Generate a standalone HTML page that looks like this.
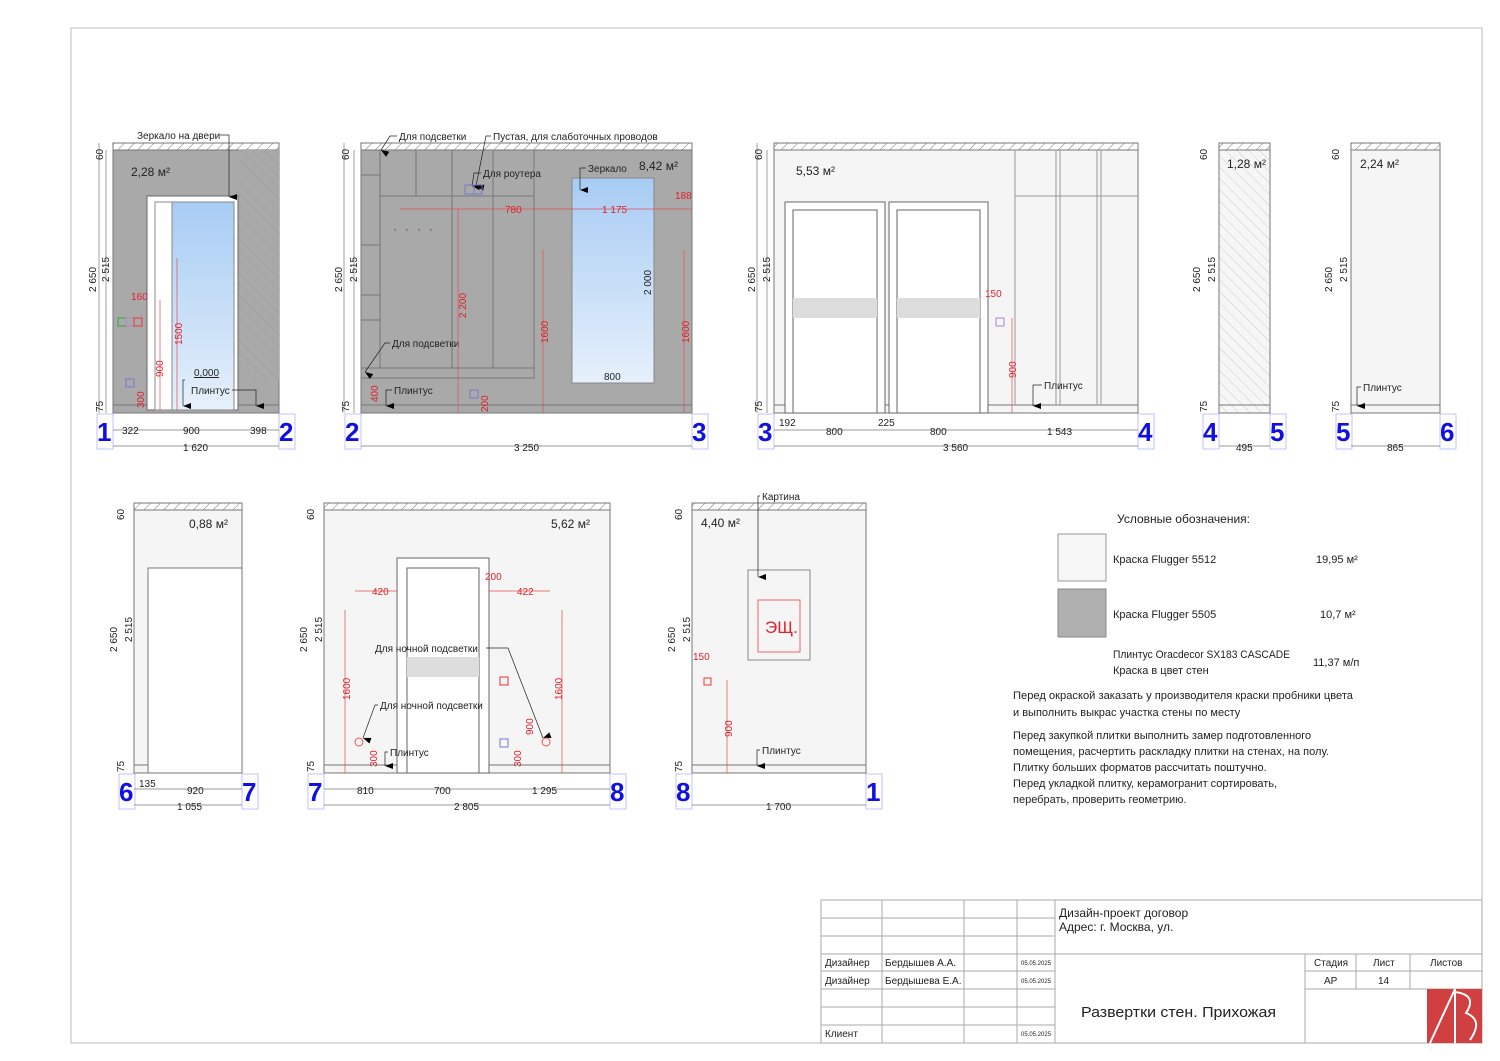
<!DOCTYPE html>
<html><head><meta charset="utf-8">
<style>
html,body{margin:0;padding:0;background:#fff;}
svg{display:block;font-family:"Liberation Sans","DejaVu Sans",sans-serif;}
.t{font-size:10px;fill:#222;}
.r{font-size:10px;fill:#e0202a;}
.n{font-size:26px;fill:#1010e0;font-weight:bold;font-family:"Liberation Sans",sans-serif;}
.d{stroke:#777;stroke-width:.7;fill:none;}
.rd{stroke:#e05050;stroke-width:.7;fill:none;}
.ld{stroke:#222;stroke-width:.7;fill:none;}
.tb{stroke:#aaa;stroke-width:1;fill:none;}
</style></head><body>
<svg width="1500" height="1061" viewBox="0 0 1500 1061" xmlns="http://www.w3.org/2000/svg">
<defs>
<pattern id="h" width="7" height="7" patternUnits="userSpaceOnUse" patternTransform="rotate(45)">
<rect width="7" height="7" fill="#fff"/><line x1="0" y1="0" x2="0" y2="7" stroke="#777" stroke-width="1"/></pattern>
<pattern id="hg" width="8" height="8" patternUnits="userSpaceOnUse" patternTransform="rotate(-45)">
<rect width="8" height="8" fill="#a9a9a9"/><line x1="0" y1="0" x2="0" y2="8" stroke="#999" stroke-width="1"/></pattern>
<pattern id="hw" width="8" height="8" patternUnits="userSpaceOnUse" patternTransform="rotate(-45)">
<rect width="8" height="8" fill="#f6f6f6"/><line x1="0" y1="0" x2="0" y2="8" stroke="#ccc" stroke-width="1"/></pattern>
<linearGradient id="m" x1="0" y1="0" x2="0" y2="1"><stop offset="0" stop-color="#a8ccf4"/><stop offset="1" stop-color="#e6f0fb"/></linearGradient>
<marker id="a" markerWidth="6" markerHeight="8" refX="3" refY="8" orient="auto-start-reverse" markerUnits="userSpaceOnUse"><path d="M0 0 L6 0 L3 8Z" fill="#000"/></marker>
</defs>
<rect x="71" y="28" width="1411" height="1015" fill="none" stroke="#bbb"/>

<!-- WALL 1 -->
<rect x="113" y="143" width="166" height="7" fill="url(#h)" stroke="#777"/>
<rect x="113" y="150" width="166" height="263" fill="#a9a9a9" stroke="#777"/>
<rect x="238" y="150" width="41" height="230" fill="url(#hg)"/>
<line x1="113" y1="405" x2="279" y2="405" stroke="#777"/>
<rect x="147" y="196" width="91" height="214" fill="#fff" stroke="#666"/>
<rect x="155" y="202" width="79" height="208" fill="#fff" stroke="#888"/>
<rect x="172" y="202" width="62" height="208" fill="url(#m)" stroke="#888"/>
<text x="137" y="139" class="t">Зеркало на двери</text>
<path d="M220 135 L229 135 L229 197" class="ld" marker-end="url(#a)"/>
<text x="131" y="176" class="t" style="font-size:12px">2,28 м²</text>
<text x="194" y="376" class="t" text-decoration="underline">0,000</text>
<path d="M185 380 L183 380 L183 406" class="ld" marker-end="url(#a)"/>
<text x="191" y="394" class="t">Плинтус</text>
<path d="M232 390 L256 390 L256 406" class="ld" marker-end="url(#a)"/>
<text x="131" y="300" class="r">160</text>
<rect x="118" y="318" width="8" height="8" fill="none" stroke="#3a3"/><rect x="126" y="318" width="8" height="8" fill="none" stroke="#a8c"/><rect x="134" y="318" width="8" height="8" fill="none" stroke="#e33"/>
<rect x="126" y="379" width="8" height="8" fill="none" stroke="#77c"/>
<line x1="177" y1="258" x2="177" y2="410" class="rd"/><line x1="160" y1="300" x2="160" y2="410" class="rd"/>
<text transform="translate(182,345) rotate(-90)" class="r">1500</text>
<text transform="translate(163,377) rotate(-90)" class="r">900</text>
<text transform="translate(144,408) rotate(-90)" class="r">300</text>
<line x1="99" y1="143" x2="99" y2="413" class="d"/><line x1="106" y1="150" x2="106" y2="413" class="d"/>
<text transform="translate(103,160) rotate(-90)" class="t">60</text>
<text transform="translate(96,292) rotate(-90)" class="t">2 650</text>
<text transform="translate(109,282) rotate(-90)" class="t">2 515</text>
<text transform="translate(103,412) rotate(-90)" class="t">75</text>
<line x1="113" y1="430" x2="279" y2="430" class="d"/><line x1="113" y1="446" x2="279" y2="446" class="d"/>
<text x="122" y="434" class="t">322</text><text x="183" y="434" class="t">900</text><text x="250" y="434" class="t">398</text>
<text x="183" y="451" class="t">1 620</text>
<rect x="97" y="414" width="16" height="35" fill="none" stroke="#99f" stroke-width=".6"/>
<rect x="279" y="414" width="16" height="35" fill="none" stroke="#99f" stroke-width=".6"/>
<text x="97" y="441" class="n">1</text><text x="279" y="441" class="n">2</text>

<!-- WALL 2 -->
<rect x="361" y="143" width="331" height="7" fill="url(#h)" stroke="#777"/>
<rect x="361" y="150" width="331" height="263" fill="#a9a9a9" stroke="#777"/>
<line x1="361" y1="405" x2="692" y2="405" stroke="#777"/>
<g stroke="#777" fill="none">
<rect x="361" y="150" width="173" height="228"/>
<line x1="380" y1="150" x2="380" y2="368"/><line x1="361" y1="368" x2="534" y2="368"/>
<line x1="416" y1="150" x2="416" y2="196"/><line x1="452" y1="150" x2="452" y2="368"/><line x1="493" y1="150" x2="493" y2="368"/>
<line x1="380" y1="196" x2="534" y2="196"/>
<line x1="361" y1="175" x2="380" y2="175"/><line x1="361" y1="245" x2="380" y2="245"/><line x1="361" y1="295" x2="380" y2="295"/><line x1="361" y1="320" x2="380" y2="320"/>
</g>
<g fill="#888"><circle cx="395" cy="230" r="1.2"/><circle cx="407" cy="230" r="1.2"/><circle cx="419" cy="230" r="1.2"/><circle cx="431" cy="230" r="1.2"/></g>
<rect x="572" y="178" width="82" height="205" fill="url(#m)" stroke="#888"/>
<text x="399" y="140" class="t">Для подсветки</text>
<path d="M397 136 L390 136 L381 150" class="ld" marker-end="url(#a)"/>
<text x="493" y="140" class="t">Пустая, для слаботочных проводов</text>
<path d="M491 136 L486 136 L476 186" class="ld" marker-end="url(#a)"/>
<text x="483" y="177" class="t">Для роутера</text>
<path d="M481 173 L474 173 L472 186" class="ld" marker-end="url(#a)"/>
<text x="392" y="347" class="t">Для подсветки</text>
<path d="M390 343 L385 343 L365 372" class="ld" marker-end="url(#a)"/>
<text x="394" y="394" class="t">Плинтус</text>
<path d="M392 390 L386 390 L386 406" class="ld" marker-end="url(#a)"/>
<text x="588" y="172" class="t">Зеркало</text>
<path d="M586 168 L580 168 L580 190" class="ld" marker-end="url(#a)"/>
<text x="639" y="170" class="t" style="font-size:12px">8,42 м²</text>
<rect x="465" y="185" width="9" height="9" fill="none" stroke="#77c"/><rect x="474" y="185" width="8" height="9" fill="none" stroke="#77c"/>
<rect x="470" y="390" width="8" height="8" fill="none" stroke="#77c"/>
<line x1="400" y1="209" x2="692" y2="209" class="rd"/>
<text x="505" y="213" class="r">780</text><text x="602" y="213" class="r">1 175</text><text x="675" y="199" class="r">188</text>
<line x1="458" y1="209" x2="458" y2="413" class="rd"/><line x1="543" y1="250" x2="543" y2="413" class="rd"/><line x1="684" y1="250" x2="684" y2="413" class="rd"/>
<text transform="translate(466,318) rotate(-90)" class="r">2 200</text>
<text transform="translate(548,343) rotate(-90)" class="r">1600</text>
<text transform="translate(689,343) rotate(-90)" class="r">1600</text>
<text transform="translate(378,402) rotate(-90)" class="r">400</text>
<text transform="translate(488,412) rotate(-90)" class="r">200</text>
<text transform="translate(651,295) rotate(-90)" class="t">2 000</text>
<text x="604" y="380" class="t">800</text>
<line x1="344" y1="143" x2="344" y2="413" class="d"/><line x1="354" y1="150" x2="354" y2="413" class="d"/>
<text transform="translate(349,160) rotate(-90)" class="t">60</text>
<text transform="translate(342,292) rotate(-90)" class="t">2 650</text>
<text transform="translate(357,282) rotate(-90)" class="t">2 515</text>
<text transform="translate(349,412) rotate(-90)" class="t">75</text>
<line x1="361" y1="446" x2="692" y2="446" class="d"/>
<text x="514" y="451" class="t">3 250</text>
<rect x="345" y="414" width="16" height="35" fill="none" stroke="#99f" stroke-width=".6"/>
<rect x="692" y="414" width="16" height="35" fill="none" stroke="#99f" stroke-width=".6"/>
<text x="345" y="441" class="n">2</text><text x="692" y="441" class="n">3</text>

<!-- WALL 3 -->
<rect x="774" y="143" width="364" height="7" fill="url(#h)" stroke="#777"/>
<rect x="774" y="150" width="364" height="263" fill="#f5f5f5" stroke="#777"/>
<line x1="774" y1="405" x2="1138" y2="405" stroke="#777"/>
<g stroke="#666" fill="#fff">
<rect x="785" y="202" width="100" height="211"/><rect x="793" y="210" width="84" height="203"/>
<rect x="889" y="202" width="99" height="211"/><rect x="897" y="210" width="83" height="203"/>
</g>
<rect x="793" y="298" width="84" height="20" fill="#ddd"/><rect x="897" y="298" width="83" height="20" fill="#ddd"/>
<g stroke="#999" fill="none"><line x1="1015" y1="150" x2="1015" y2="405"/><line x1="1056" y1="150" x2="1056" y2="405"/><line x1="1060" y1="150" x2="1060" y2="405"/><line x1="1097" y1="150" x2="1097" y2="405"/><line x1="1101" y1="150" x2="1101" y2="405"/><line x1="1015" y1="196" x2="1138" y2="196"/></g>
<text x="796" y="175" class="t" style="font-size:12px">5,53 м²</text>
<text x="985" y="297" class="r">150</text>
<rect x="996" y="318" width="8" height="8" fill="none" stroke="#a8c"/>
<line x1="1012" y1="318" x2="1012" y2="413" class="rd"/>
<text transform="translate(1016,378) rotate(-90)" class="r">900</text>
<text x="1044" y="389" class="t">Плинтус</text>
<path d="M1042 385 L1033 385 L1033 406" class="ld" marker-end="url(#a)"/>
<line x1="774" y1="430" x2="1138" y2="430" class="d"/><line x1="774" y1="446" x2="1138" y2="446" class="d"/>
<text x="779" y="426" class="t">192</text><text x="826" y="435" class="t">800</text><text x="878" y="426" class="t">225</text><text x="930" y="435" class="t">800</text><text x="1047" y="435" class="t">1 543</text>
<text x="943" y="451" class="t">3 560</text>
<line x1="757" y1="143" x2="757" y2="413" class="d"/><line x1="767" y1="150" x2="767" y2="413" class="d"/>
<text transform="translate(762,160) rotate(-90)" class="t">60</text>
<text transform="translate(755,292) rotate(-90)" class="t">2 650</text>
<text transform="translate(770,282) rotate(-90)" class="t">2 515</text>
<text transform="translate(762,412) rotate(-90)" class="t">75</text>
<rect x="758" y="414" width="16" height="35" fill="none" stroke="#99f" stroke-width=".6"/>
<rect x="1138" y="414" width="16" height="35" fill="none" stroke="#99f" stroke-width=".6"/>
<text x="758" y="441" class="n">3</text><text x="1138" y="441" class="n">4</text>

<!-- WALL 4 -->
<rect x="1219" y="143" width="51" height="7" fill="url(#h)" stroke="#777"/>
<rect x="1219" y="150" width="51" height="263" fill="url(#hw)" stroke="#777"/>
<line x1="1219" y1="405" x2="1270" y2="405" stroke="#777"/>
<text x="1227" y="168" class="t" style="font-size:12px">1,28 м²</text>
<line x1="1219" y1="446" x2="1270" y2="446" class="d"/>
<text x="1236" y="451" class="t">495</text>
<text transform="translate(1207,160) rotate(-90)" class="t">60</text>
<text transform="translate(1200,292) rotate(-90)" class="t">2 650</text>
<text transform="translate(1215,282) rotate(-90)" class="t">2 515</text>
<text transform="translate(1207,412) rotate(-90)" class="t">75</text>
<rect x="1203" y="414" width="16" height="35" fill="none" stroke="#99f" stroke-width=".6"/>
<rect x="1270" y="414" width="16" height="35" fill="none" stroke="#99f" stroke-width=".6"/>
<text x="1203" y="441" class="n">4</text><text x="1270" y="441" class="n">5</text>

<!-- WALL 5 -->
<rect x="1351" y="143" width="89" height="7" fill="url(#h)" stroke="#777"/>
<rect x="1351" y="150" width="89" height="263" fill="#f5f5f5" stroke="#777"/>
<line x1="1351" y1="405" x2="1440" y2="405" stroke="#777"/>
<text x="1360" y="168" class="t" style="font-size:12px">2,24 м²</text>
<text x="1363" y="391" class="t">Плинтус</text>
<path d="M1361 387 L1357 387 L1357 406" class="ld" marker-end="url(#a)"/>
<line x1="1351" y1="446" x2="1440" y2="446" class="d"/>
<text x="1387" y="451" class="t">865</text>
<text transform="translate(1339,160) rotate(-90)" class="t">60</text>
<text transform="translate(1332,292) rotate(-90)" class="t">2 650</text>
<text transform="translate(1347,282) rotate(-90)" class="t">2 515</text>
<text transform="translate(1339,412) rotate(-90)" class="t">75</text>
<rect x="1336" y="414" width="16" height="35" fill="none" stroke="#99f" stroke-width=".6"/>
<rect x="1440" y="414" width="16" height="35" fill="none" stroke="#99f" stroke-width=".6"/>
<text x="1336" y="441" class="n">5</text><text x="1440" y="441" class="n">6</text>

<!-- WALL 6 -->
<rect x="134" y="503" width="108" height="7" fill="url(#h)" stroke="#777"/>
<rect x="134" y="510" width="108" height="263" fill="#f5f5f5" stroke="#777"/>
<rect x="148" y="568" width="94" height="205" fill="#fff" stroke="#777"/>
<line x1="134" y1="765" x2="148" y2="765" stroke="#777"/>
<text x="189" y="528" class="t" style="font-size:12px">0,88 м²</text>
<line x1="134" y1="789" x2="242" y2="789" class="d"/><line x1="134" y1="805" x2="242" y2="805" class="d"/>
<text x="139" y="787" class="t">135</text><text x="187" y="794" class="t">920</text><text x="177" y="810" class="t">1 055</text>
<text transform="translate(124,520) rotate(-90)" class="t">60</text>
<text transform="translate(117,652) rotate(-90)" class="t">2 650</text>
<text transform="translate(132,642) rotate(-90)" class="t">2 515</text>
<text transform="translate(124,772) rotate(-90)" class="t">75</text>
<rect x="119" y="774" width="16" height="35" fill="none" stroke="#99f" stroke-width=".6"/>
<rect x="242" y="774" width="16" height="35" fill="none" stroke="#99f" stroke-width=".6"/>
<text x="119" y="801" class="n">6</text><text x="242" y="801" class="n">7</text>

<!-- WALL 7 -->
<rect x="324" y="503" width="286" height="7" fill="url(#h)" stroke="#777"/>
<rect x="324" y="510" width="286" height="263" fill="#f5f5f5" stroke="#777"/>
<line x1="324" y1="765" x2="610" y2="765" stroke="#777"/>
<rect x="397" y="558" width="92" height="215" fill="#fff" stroke="#666"/>
<rect x="407" y="568" width="72" height="205" fill="#fff" stroke="#666"/>
<rect x="407" y="657" width="72" height="20" fill="#ddd"/>
<text x="551" y="528" class="t" style="font-size:12px">5,62 м²</text>
<text x="375" y="652" class="t">Для ночной подсветки</text>
<path d="M486 648 L508 648 L543 738" class="ld" marker-end="url(#a)"/>
<text x="380" y="709" class="t">Для ночной подсветки</text>
<path d="M378 705 L375 705 L363 738" class="ld" marker-end="url(#a)"/>
<text x="390" y="756" class="t">Плинтус</text>
<path d="M388 752 L385 752 L385 766" class="ld" marker-end="url(#a)"/>
<line x1="355" y1="591" x2="397" y2="591" class="rd"/><line x1="489" y1="591" x2="550" y2="591" class="rd"/>
<text x="372" y="595" class="r">420</text><text x="485" y="580" class="r">200</text><text x="517" y="595" class="r">422</text>
<line x1="345" y1="610" x2="345" y2="773" class="rd"/><line x1="562" y1="610" x2="562" y2="773" class="rd"/>
<text transform="translate(350,700) rotate(-90)" class="r">1600</text>
<text transform="translate(562,700) rotate(-90)" class="r">1600</text>
<text transform="translate(533,735) rotate(-90)" class="r">900</text>
<text transform="translate(377,767) rotate(-90)" class="r">300</text>
<text transform="translate(521,767) rotate(-90)" class="r">300</text>
<rect x="500" y="677" width="8" height="8" fill="none" stroke="#e33"/>
<rect x="500" y="739" width="8" height="8" fill="none" stroke="#77c"/>
<circle cx="359" cy="742" r="4" fill="none" stroke="#e55"/><circle cx="546" cy="742" r="4" fill="none" stroke="#e55"/>
<line x1="324" y1="789" x2="610" y2="789" class="d"/><line x1="324" y1="805" x2="610" y2="805" class="d"/>
<text x="357" y="794" class="t">810</text><text x="434" y="794" class="t">700</text><text x="532" y="794" class="t">1 295</text><text x="454" y="810" class="t">2 805</text>
<text transform="translate(314,520) rotate(-90)" class="t">60</text>
<text transform="translate(307,652) rotate(-90)" class="t">2 650</text>
<text transform="translate(322,642) rotate(-90)" class="t">2 515</text>
<text transform="translate(314,772) rotate(-90)" class="t">75</text>
<rect x="308" y="774" width="16" height="35" fill="none" stroke="#99f" stroke-width=".6"/>
<rect x="610" y="774" width="16" height="35" fill="none" stroke="#99f" stroke-width=".6"/>
<text x="308" y="801" class="n">7</text><text x="610" y="801" class="n">8</text>

<!-- WALL 8 -->
<rect x="692" y="503" width="174" height="7" fill="url(#h)" stroke="#777"/>
<rect x="692" y="510" width="174" height="263" fill="#f5f5f5" stroke="#777"/>
<line x1="692" y1="765" x2="866" y2="765" stroke="#777"/>
<rect x="748" y="570" width="62" height="90" fill="#f5f5f5" stroke="#888"/>
<rect x="758" y="600" width="42" height="52" fill="none" stroke="#e66"/>
<text x="765" y="633" class="r" style="font-size:17px">ЭЩ.</text>
<text x="762" y="500" class="t">Картина</text>
<path d="M760 496 L758 496 L758 577" class="ld" marker-end="url(#a)"/>
<text x="701" y="527" class="t" style="font-size:12px">4,40 м²</text>
<text x="693" y="660" class="r">150</text>
<rect x="704" y="678" width="7" height="7" fill="none" stroke="#e33"/>
<line x1="727" y1="680" x2="727" y2="773" class="rd"/>
<text transform="translate(732,737) rotate(-90)" class="r">900</text>
<text x="762" y="754" class="t">Плинтус</text>
<path d="M760 750 L757 750 L757 766" class="ld" marker-end="url(#a)"/>
<line x1="692" y1="805" x2="866" y2="805" class="d"/>
<text x="766" y="810" class="t">1 700</text>
<text transform="translate(682,520) rotate(-90)" class="t">60</text>
<text transform="translate(675,652) rotate(-90)" class="t">2 650</text>
<text transform="translate(690,642) rotate(-90)" class="t">2 515</text>
<text transform="translate(682,772) rotate(-90)" class="t">75</text>
<rect x="676" y="774" width="16" height="35" fill="none" stroke="#99f" stroke-width=".6"/>
<rect x="866" y="774" width="16" height="35" fill="none" stroke="#99f" stroke-width=".6"/>
<text x="676" y="801" class="n">8</text><text x="866" y="801" class="n">1</text>

<!-- LEGEND -->
<text x="1117" y="523" class="t" style="font-size:12px">Условные обозначения:</text>
<rect x="1058" y="534" width="48" height="47" fill="#f7f7f7" stroke="#999"/>
<rect x="1058" y="589" width="48" height="48" fill="#b0b0b0" stroke="#888"/>
<text x="1113" y="563" class="t" style="font-size:11px">Краска Flugger 5512</text><text x="1316" y="563" class="t" style="font-size:11px">19,95 м²</text>
<text x="1113" y="618" class="t" style="font-size:11px">Краска Flugger 5505</text><text x="1320" y="618" class="t" style="font-size:11px">10,7 м²</text>
<text x="1113" y="658" class="t" style="font-size:11px" textLength="177" lengthAdjust="spacingAndGlyphs">Плинтус Oracdecor SX183 CASCADE</text>
<text x="1113" y="674" class="t" style="font-size:11px">Краска в цвет стен</text>
<text x="1313" y="666" class="t" style="font-size:11px">11,37 м/п</text>
<g class="t" style="font-size:11px">
<text x="1013" y="699" textLength="340" lengthAdjust="spacingAndGlyphs">Перед окраской заказать у производителя краски пробники цвета</text>
<text x="1013" y="716">и выполнить выкрас участка стены по месту</text>
<text x="1013" y="739">Перед закупкой плитки выполнить замер подготовленного</text>
<text x="1013" y="755" textLength="316" lengthAdjust="spacingAndGlyphs">помещения, расчертить раскладку плитки на стенах, на полу.</text>
<text x="1013" y="771">Плитку больших форматов рассчитать поштучно.</text>
<text x="1013" y="787">Перед укладкой плитку, керамогранит сортировать,</text>
<text x="1013" y="803">перебрать, проверить геометрию.</text>
</g>

<!-- TITLE BLOCK -->
<g class="tb">
<rect x="821" y="900" width="661" height="143"/>
<line x1="882" y1="900" x2="882" y2="1043"/><line x1="964" y1="900" x2="964" y2="1043"/><line x1="1017" y1="900" x2="1017" y2="1043"/><line x1="1055" y1="900" x2="1055" y2="1043"/>
<line x1="821" y1="918" x2="1055" y2="918"/><line x1="821" y1="936" x2="1055" y2="936"/><line x1="821" y1="954" x2="1482" y2="954"/>
<line x1="821" y1="971" x2="1055" y2="971"/><line x1="821" y1="989" x2="1055" y2="989"/><line x1="821" y1="1007" x2="1055" y2="1007"/><line x1="821" y1="1025" x2="1055" y2="1025"/>
<line x1="1305" y1="954" x2="1305" y2="1043"/><line x1="1356" y1="954" x2="1356" y2="989"/><line x1="1410" y1="954" x2="1410" y2="989"/>
<line x1="1305" y1="971" x2="1482" y2="971"/><line x1="1305" y1="989" x2="1482" y2="989"/>
</g>
<g class="t" style="font-size:10px">
<text x="825" y="966">Дизайнер</text><text x="885" y="966">Бердышев А.А.</text>
<text x="825" y="984">Дизайнер</text><text x="885" y="984">Бердышева Е.А.</text>
<text x="825" y="1037">Клиент</text>
<text x="1021" y="965" style="font-size:6px">05.05.2025</text><text x="1021" y="983" style="font-size:6px">05.05.2025</text><text x="1021" y="1036" style="font-size:6px">05.05.2025</text>
<text x="1314" y="966">Стадия</text><text x="1373" y="966">Лист</text><text x="1430" y="966">Листов</text>
<text x="1324" y="984">АР</text><text x="1378" y="984">14</text>
</g>
<text x="1059" y="917" class="t" style="font-size:12px">Дизайн-проект договор</text>
<text x="1059" y="931" class="t" style="font-size:12px">Адрес: г. Москва, ул.</text>
<text x="1081" y="1017" class="t" style="font-size:15px" textLength="195" lengthAdjust="spacingAndGlyphs">Развертки стен. Прихожая</text>
<rect x="1427" y="989" width="55" height="54" fill="#d04040"/>
<path d="M1430 1043 L1455 989 M1455 989 L1455 1043" stroke="#fff" stroke-width="2" fill="none"/>
<path d="M1455 992 Q1478 995 1466 1013 Q1484 1020 1470 1040" stroke="#fff" stroke-width="2" fill="none"/>
</svg>
</body></html>
